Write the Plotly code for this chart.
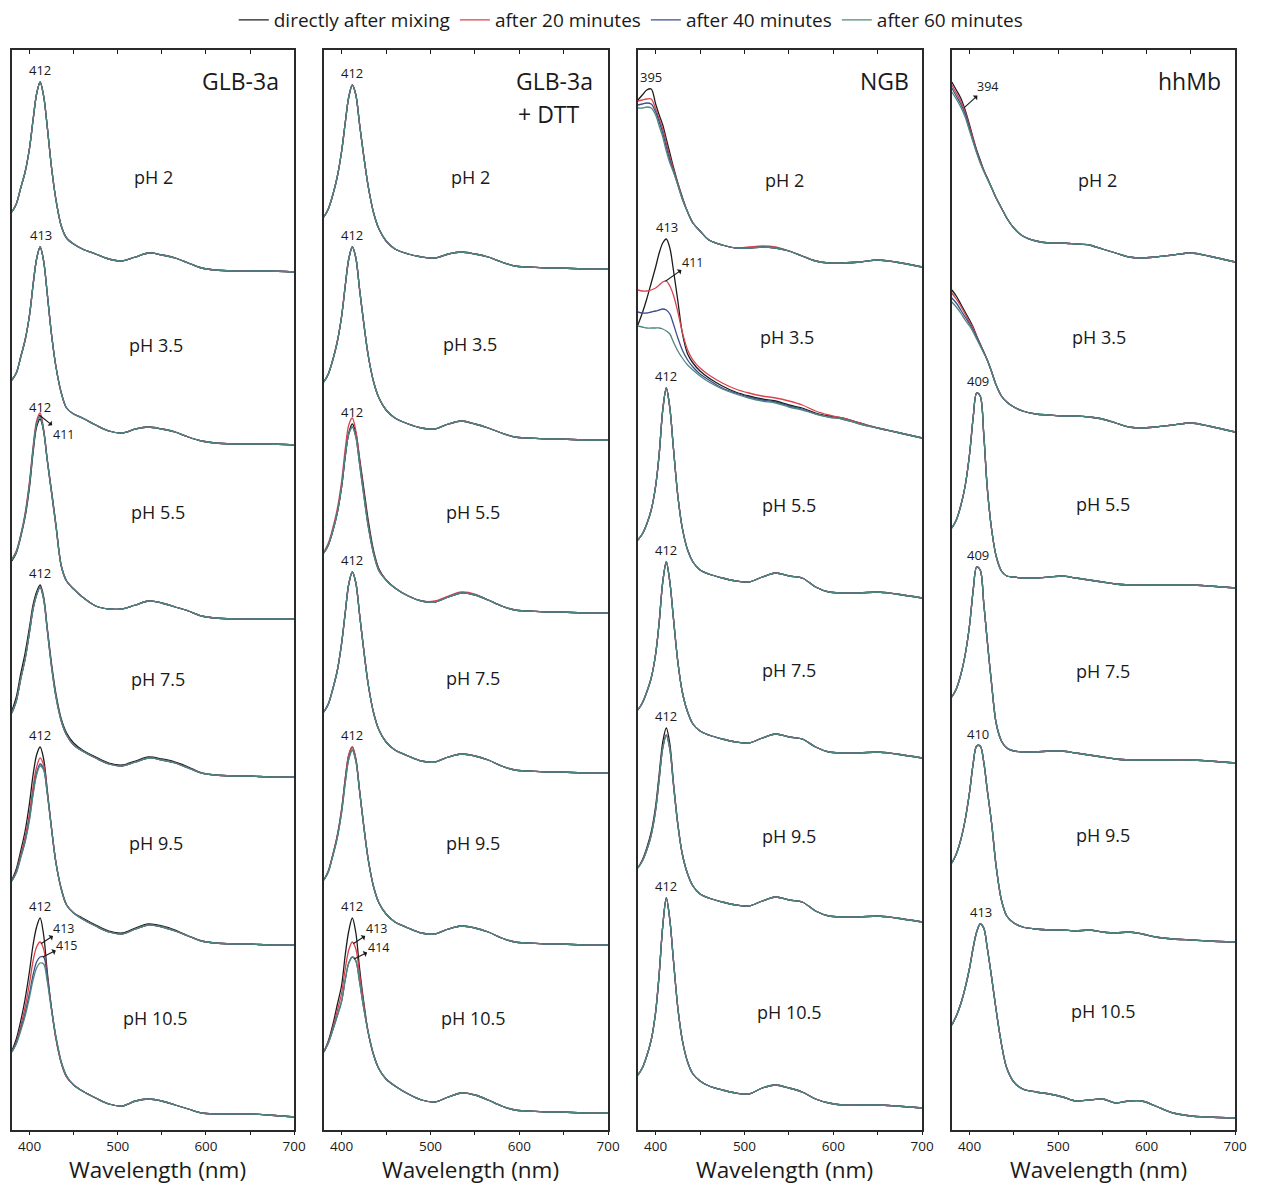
import numpy as np
import plotly.graph_objects as go

W, H = 1262, 1185

# Wavelength grid (nm) shared by every spectrum
WAVELENGTH = [380, 385, 390, 395, 400, 404, 408, 412, 416, 420, 425, 430, 436, 442, 450,
              460, 475, 490, 505, 520, 535, 550, 565, 580, 595, 610, 630, 650, 670, 700]

TIME_POINTS = ["directly after mixing", "after 20 minutes", "after 40 minutes", "after 60 minutes"]
TIME_COLORS = ["#1c1c1c", "#d9434e", "#3d4d8f", "#4f877d"]
PH_LABELS = ["pH 2", "pH 3.5", "pH 5.5", "pH 7.5", "pH 9.5", "pH 10.5"]
PANEL_NAMES = ["GLB-3a", "GLB-3a + DTT", "NGB", "hhMb"]

# Absorbance above each trace's 700 nm level; one list per time point
# (a single list is reused where the time points coincide)

# ---- GLB-3a ----
glb_ph2 = [0.60, 0.68, 0.84, 1.00, 1.24, 1.52, 1.78, 1.90, 1.76, 1.46, 1.04, 0.72, 0.46, 0.34, 0.28,
           0.23, 0.18, 0.13, 0.11, 0.15, 0.19, 0.17, 0.14, 0.09, 0.04, 0.02, 0.01, 0.01, 0.01, 0.00]
glb_ph3_5 = [0.65, 0.72, 0.88, 1.05, 1.30, 1.60, 1.86, 1.98, 1.84, 1.52, 1.10, 0.78, 0.52, 0.37, 0.31,
             0.27, 0.20, 0.14, 0.12, 0.16, 0.18, 0.16, 0.13, 0.08, 0.04, 0.02, 0.01, 0.01, 0.01, 0.00]
glb_ph5_5_t0 = [0.58, 0.66, 0.82, 1.02, 1.32, 1.66, 1.92, 2.00, 1.88, 1.60, 1.28, 0.94, 0.53, 0.38, 0.30,
                0.22, 0.13, 0.10, 0.10, 0.14, 0.18, 0.16, 0.12, 0.08, 0.03, 0.01, 0.00, 0.00, 0.00, 0.00]
glb_ph5_5_t20 = [0.60, 0.68, 0.84, 1.06, 1.38, 1.72, 1.98, 2.06, 1.90, 1.60, 1.26, 0.92, 0.53, 0.38, 0.30,
                 0.22, 0.13, 0.10, 0.10, 0.14, 0.18, 0.16, 0.12, 0.08, 0.03, 0.01, 0.00, 0.00, 0.00, 0.00]
glb_ph5_5_t60 = [0.59, 0.67, 0.83, 1.04, 1.35, 1.69, 1.95, 2.03, 1.88, 1.59, 1.26, 0.93, 0.53, 0.38, 0.30,
                 0.22, 0.13, 0.10, 0.10, 0.14, 0.18, 0.16, 0.12, 0.08, 0.03, 0.01, 0.00, 0.00, 0.00, 0.00]
glb_ph7_5_t0 = [0.66, 0.80, 1.03, 1.24, 1.50, 1.72, 1.85, 1.92, 1.80, 1.50, 1.13, 0.83, 0.58, 0.44, 0.34,
                0.27, 0.20, 0.14, 0.12, 0.16, 0.20, 0.18, 0.15, 0.10, 0.04, 0.02, 0.01, 0.01, 0.00, 0.00]
glb_ph7_5_t60 = [0.64, 0.76, 0.98, 1.18, 1.45, 1.68, 1.82, 1.90, 1.78, 1.48, 1.10, 0.80, 0.56, 0.42, 0.32,
                 0.26, 0.19, 0.13, 0.11, 0.15, 0.19, 0.17, 0.14, 0.09, 0.04, 0.02, 0.01, 0.01, 0.00, 0.00]
glb_ph9_5_t0 = [0.65, 0.76, 0.94, 1.14, 1.42, 1.70, 1.90, 1.98, 1.86, 1.56, 1.16, 0.82, 0.56, 0.40, 0.32,
                0.27, 0.20, 0.14, 0.12, 0.17, 0.21, 0.19, 0.15, 0.09, 0.04, 0.02, 0.01, 0.01, 0.00, 0.00]
glb_ph9_5_t20 = [0.64, 0.74, 0.90, 1.08, 1.32, 1.58, 1.78, 1.87, 1.80, 1.54, 1.16, 0.82, 0.56, 0.40, 0.32,
                 0.26, 0.19, 0.13, 0.11, 0.16, 0.20, 0.18, 0.14, 0.09, 0.04, 0.02, 0.01, 0.01, 0.00, 0.00]
glb_ph9_5_t40 = [0.64, 0.73, 0.88, 1.04, 1.27, 1.52, 1.72, 1.81, 1.76, 1.52, 1.16, 0.82, 0.56, 0.40, 0.32,
                 0.26, 0.19, 0.13, 0.11, 0.16, 0.20, 0.18, 0.14, 0.09, 0.04, 0.02, 0.01, 0.01, 0.00, 0.00]
glb_ph9_5_t60 = [0.64, 0.72, 0.87, 1.03, 1.25, 1.50, 1.70, 1.79, 1.75, 1.52, 1.16, 0.82, 0.56, 0.40, 0.32,
                 0.26, 0.19, 0.13, 0.11, 0.16, 0.20, 0.18, 0.14, 0.09, 0.04, 0.02, 0.01, 0.01, 0.00, 0.00]
glb_ph10_5_t0 = [0.66, 0.78, 0.96, 1.18, 1.46, 1.72, 1.90, 1.99, 1.82, 1.46, 1.08, 0.78, 0.54, 0.40, 0.32,
                 0.26, 0.19, 0.13, 0.11, 0.16, 0.18, 0.16, 0.12, 0.08, 0.04, 0.03, 0.03, 0.03, 0.02, 0.00]
glb_ph10_5_t20 = [0.65, 0.75, 0.91, 1.10, 1.34, 1.56, 1.70, 1.75, 1.68, 1.42, 1.08, 0.78, 0.54, 0.40, 0.32,
                  0.26, 0.19, 0.13, 0.11, 0.16, 0.18, 0.16, 0.12, 0.08, 0.04, 0.03, 0.03, 0.03, 0.02, 0.00]
glb_ph10_5_t40 = [0.65, 0.74, 0.88, 1.04, 1.24, 1.42, 1.55, 1.60, 1.60, 1.40, 1.08, 0.80, 0.55, 0.41, 0.32,
                  0.26, 0.19, 0.13, 0.11, 0.16, 0.18, 0.16, 0.12, 0.08, 0.04, 0.03, 0.03, 0.03, 0.02, 0.00]
glb_ph10_5_t60 = [0.65, 0.73, 0.86, 1.01, 1.20, 1.37, 1.49, 1.54, 1.53, 1.36, 1.06, 0.80, 0.55, 0.41, 0.32,
                  0.26, 0.19, 0.13, 0.11, 0.16, 0.18, 0.16, 0.12, 0.08, 0.04, 0.03, 0.03, 0.03, 0.02, 0.00]

# ---- GLB-3a + DTT ----
dtt_ph2 = [0.52, 0.60, 0.74, 0.92, 1.18, 1.46, 1.72, 1.84, 1.74, 1.46, 1.12, 0.82, 0.56, 0.40, 0.28,
           0.20, 0.15, 0.12, 0.11, 0.15, 0.17, 0.15, 0.12, 0.07, 0.03, 0.02, 0.01, 0.01, 0.00, 0.00]
dtt_ph3_5 = [0.58, 0.66, 0.80, 0.98, 1.24, 1.54, 1.81, 1.93, 1.82, 1.52, 1.16, 0.84, 0.58, 0.42, 0.30,
             0.22, 0.16, 0.12, 0.11, 0.16, 0.19, 0.16, 0.12, 0.07, 0.03, 0.02, 0.01, 0.01, 0.00, 0.00]
dtt_ph5_5_t0 = [0.60, 0.68, 0.82, 1.00, 1.26, 1.56, 1.80, 1.89, 1.80, 1.56, 1.24, 0.92, 0.62, 0.44, 0.33,
                0.25, 0.17, 0.12, 0.11, 0.16, 0.20, 0.18, 0.13, 0.07, 0.03, 0.02, 0.01, 0.01, 0.00, 0.00]
dtt_ph5_5_t20 = [0.61, 0.70, 0.85, 1.04, 1.32, 1.64, 1.88, 1.95, 1.82, 1.54, 1.20, 0.88, 0.60, 0.43, 0.33,
                 0.25, 0.17, 0.12, 0.12, 0.17, 0.21, 0.19, 0.13, 0.07, 0.03, 0.02, 0.01, 0.01, 0.00, 0.00]
dtt_ph5_5_t60 = [0.60, 0.68, 0.82, 1.00, 1.27, 1.57, 1.79, 1.86, 1.76, 1.50, 1.17, 0.86, 0.59, 0.42, 0.33,
                 0.25, 0.17, 0.12, 0.11, 0.16, 0.20, 0.18, 0.13, 0.07, 0.03, 0.02, 0.01, 0.01, 0.00, 0.00]
dtt_ph7_5 = [0.61, 0.69, 0.84, 1.02, 1.30, 1.60, 1.89, 2.01, 1.90, 1.60, 1.22, 0.88, 0.60, 0.43, 0.31,
             0.23, 0.17, 0.12, 0.11, 0.16, 0.19, 0.17, 0.13, 0.07, 0.03, 0.02, 0.01, 0.01, 0.00, 0.00]
dtt_ph9_5_t0 = [0.65, 0.74, 0.90, 1.09, 1.36, 1.66, 1.90, 1.98, 1.86, 1.56, 1.18, 0.85, 0.58, 0.42, 0.31,
                0.23, 0.17, 0.12, 0.11, 0.16, 0.19, 0.17, 0.13, 0.07, 0.03, 0.02, 0.01, 0.01, 0.00, 0.00]
dtt_ph9_5_t60 = [0.65, 0.73, 0.89, 1.07, 1.33, 1.62, 1.86, 1.95, 1.84, 1.55, 1.18, 0.85, 0.58, 0.42, 0.31,
                 0.23, 0.17, 0.12, 0.11, 0.16, 0.19, 0.17, 0.13, 0.07, 0.03, 0.02, 0.01, 0.01, 0.00, 0.00]
dtt_ph10_5_t0 = [0.61, 0.72, 0.88, 1.08, 1.28, 1.58, 1.82, 1.95, 1.80, 1.46, 1.10, 0.80, 0.58, 0.44, 0.34,
                 0.27, 0.19, 0.13, 0.11, 0.16, 0.20, 0.18, 0.13, 0.07, 0.03, 0.02, 0.01, 0.01, 0.00, 0.00]
dtt_ph10_5_t20 = [0.61, 0.71, 0.85, 1.02, 1.20, 1.44, 1.63, 1.71, 1.64, 1.40, 1.08, 0.80, 0.58, 0.44, 0.34,
                  0.27, 0.19, 0.13, 0.11, 0.16, 0.20, 0.18, 0.13, 0.07, 0.03, 0.02, 0.01, 0.01, 0.00, 0.00]
dtt_ph10_5_t60 = [0.61, 0.70, 0.83, 0.97, 1.12, 1.33, 1.50, 1.56, 1.52, 1.32, 1.04, 0.80, 0.58, 0.44, 0.34,
                  0.27, 0.19, 0.13, 0.11, 0.16, 0.20, 0.18, 0.13, 0.07, 0.03, 0.02, 0.01, 0.01, 0.00, 0.00]

# ---- NGB ----
ngb_ph2_t0 = [1.67, 1.72, 1.77, 1.78, 1.63, 1.52, 1.42, 1.28, 1.14, 1.00, 0.84, 0.70, 0.55, 0.44, 0.36,
              0.27, 0.22, 0.19, 0.19, 0.20, 0.19, 0.16, 0.11, 0.06, 0.04, 0.04, 0.05, 0.07, 0.05, 0.00]
ngb_ph2_t20 = [1.66, 1.67, 1.68, 1.68, 1.58, 1.48, 1.38, 1.24, 1.10, 0.98, 0.83, 0.69, 0.55, 0.44, 0.36,
               0.27, 0.22, 0.19, 0.20, 0.21, 0.20, 0.16, 0.11, 0.06, 0.04, 0.04, 0.05, 0.07, 0.05, 0.00]
ngb_ph2_t40 = [1.62, 1.63, 1.64, 1.63, 1.55, 1.45, 1.34, 1.20, 1.07, 0.96, 0.82, 0.68, 0.55, 0.44, 0.36,
               0.27, 0.22, 0.19, 0.19, 0.20, 0.19, 0.16, 0.11, 0.06, 0.04, 0.04, 0.05, 0.07, 0.05, 0.00]
ngb_ph2_t60 = [1.59, 1.59, 1.60, 1.59, 1.52, 1.41, 1.30, 1.16, 1.04, 0.95, 0.82, 0.68, 0.55, 0.44, 0.36,
               0.27, 0.22, 0.19, 0.19, 0.20, 0.19, 0.16, 0.11, 0.06, 0.04, 0.04, 0.05, 0.07, 0.05, 0.00]
ngb_ph3_5_t0 = [1.13, 1.25, 1.39, 1.55, 1.71, 1.85, 1.95, 1.99, 1.90, 1.68, 1.37, 1.05, 0.84, 0.75, 0.67,
                0.60, 0.52, 0.46, 0.42, 0.39, 0.37, 0.33, 0.30, 0.25, 0.22, 0.20, 0.15, 0.10, 0.06, 0.00]
ngb_ph3_5_t20 = [1.48, 1.47, 1.47, 1.48, 1.50, 1.53, 1.56, 1.57, 1.52, 1.43, 1.26, 1.06, 0.88, 0.78, 0.70,
                 0.63, 0.55, 0.49, 0.45, 0.42, 0.40, 0.37, 0.33, 0.27, 0.23, 0.20, 0.15, 0.10, 0.06, 0.00]
ngb_ph3_5_t40 = [1.26, 1.25, 1.25, 1.26, 1.27, 1.28, 1.29, 1.28, 1.24, 1.14, 1.00, 0.88, 0.78, 0.71, 0.64,
                 0.58, 0.50, 0.45, 0.41, 0.38, 0.36, 0.32, 0.29, 0.24, 0.21, 0.19, 0.14, 0.10, 0.06, 0.00]
ngb_ph3_5_t60 = [1.12, 1.11, 1.10, 1.10, 1.10, 1.10, 1.09, 1.07, 1.04, 0.96, 0.87, 0.80, 0.73, 0.68, 0.62,
                 0.56, 0.49, 0.44, 0.40, 0.37, 0.35, 0.31, 0.28, 0.24, 0.21, 0.19, 0.14, 0.10, 0.06, 0.00]
ngb_ph5_5 = [0.58, 0.64, 0.74, 0.88, 1.12, 1.44, 1.88, 2.10, 1.90, 1.50, 1.02, 0.70, 0.48, 0.36, 0.28,
             0.24, 0.20, 0.17, 0.16, 0.21, 0.25, 0.22, 0.20, 0.11, 0.06, 0.05, 0.05, 0.06, 0.04, 0.00]
ngb_ph7_5 = [0.48, 0.55, 0.66, 0.80, 1.04, 1.36, 1.76, 1.96, 1.76, 1.40, 0.96, 0.66, 0.46, 0.34, 0.27,
             0.23, 0.19, 0.16, 0.15, 0.20, 0.24, 0.21, 0.19, 0.11, 0.06, 0.05, 0.05, 0.06, 0.04, 0.00]
ngb_ph9_5_t0 = [0.54, 0.62, 0.74, 0.90, 1.16, 1.48, 1.80, 1.94, 1.78, 1.40, 0.98, 0.68, 0.48, 0.36, 0.28,
                0.24, 0.20, 0.17, 0.16, 0.21, 0.25, 0.22, 0.20, 0.11, 0.06, 0.05, 0.05, 0.06, 0.04, 0.00]
ngb_ph9_5_t60 = [0.54, 0.61, 0.72, 0.87, 1.12, 1.43, 1.74, 1.87, 1.73, 1.38, 0.97, 0.68, 0.48, 0.36, 0.28,
                 0.24, 0.20, 0.17, 0.16, 0.21, 0.25, 0.22, 0.20, 0.11, 0.06, 0.05, 0.05, 0.06, 0.04, 0.00]
ngb_ph10_5 = [0.33, 0.40, 0.52, 0.68, 0.96, 1.34, 1.82, 2.10, 1.88, 1.48, 1.00, 0.68, 0.46, 0.34, 0.27,
              0.22, 0.18, 0.15, 0.14, 0.20, 0.23, 0.20, 0.16, 0.09, 0.05, 0.03, 0.03, 0.03, 0.02, 0.00]

# ---- hhMb ----
hh_ph2_t0 = [1.80, 1.72, 1.64, 1.52, 1.37, 1.24, 1.12, 1.02, 0.92, 0.84, 0.74, 0.64, 0.54, 0.44, 0.34,
             0.26, 0.21, 0.19, 0.19, 0.18, 0.17, 0.13, 0.09, 0.05, 0.04, 0.05, 0.07, 0.09, 0.06, 0.00]
hh_ph2_t20 = [1.77, 1.69, 1.61, 1.50, 1.35, 1.23, 1.11, 1.01, 0.92, 0.84, 0.74, 0.64, 0.54, 0.44, 0.34,
              0.26, 0.21, 0.19, 0.19, 0.18, 0.17, 0.13, 0.09, 0.05, 0.04, 0.05, 0.07, 0.09, 0.06, 0.00]
hh_ph2_t40 = [1.74, 1.66, 1.58, 1.48, 1.33, 1.21, 1.10, 1.00, 0.91, 0.84, 0.74, 0.64, 0.54, 0.44, 0.34,
              0.26, 0.21, 0.19, 0.19, 0.18, 0.17, 0.13, 0.09, 0.05, 0.04, 0.05, 0.07, 0.09, 0.06, 0.00]
hh_ph2_t60 = [1.70, 1.63, 1.55, 1.45, 1.31, 1.20, 1.09, 0.99, 0.91, 0.83, 0.74, 0.64, 0.54, 0.44, 0.34,
              0.26, 0.21, 0.19, 0.19, 0.18, 0.17, 0.13, 0.09, 0.05, 0.04, 0.05, 0.07, 0.09, 0.06, 0.00]
hh_ph3_5_t0 = [1.42, 1.36, 1.28, 1.20, 1.12, 1.05, 0.96, 0.88, 0.80, 0.72, 0.60, 0.47, 0.36, 0.30, 0.25,
               0.21, 0.18, 0.17, 0.16, 0.16, 0.15, 0.13, 0.09, 0.05, 0.04, 0.05, 0.07, 0.09, 0.06, 0.00]
hh_ph3_5_t20 = [1.39, 1.33, 1.26, 1.18, 1.10, 1.04, 0.96, 0.88, 0.80, 0.72, 0.60, 0.47, 0.36, 0.30, 0.25,
                0.21, 0.18, 0.17, 0.16, 0.16, 0.15, 0.13, 0.09, 0.05, 0.04, 0.05, 0.07, 0.09, 0.06, 0.00]
hh_ph3_5_t40 = [1.34, 1.29, 1.22, 1.15, 1.08, 1.02, 0.95, 0.87, 0.80, 0.72, 0.60, 0.47, 0.36, 0.30, 0.25,
                0.21, 0.18, 0.17, 0.16, 0.16, 0.15, 0.13, 0.09, 0.05, 0.04, 0.05, 0.07, 0.09, 0.06, 0.00]
hh_ph3_5_t60 = [1.30, 1.25, 1.19, 1.12, 1.06, 1.00, 0.93, 0.86, 0.79, 0.72, 0.60, 0.47, 0.36, 0.30, 0.25,
                0.21, 0.18, 0.17, 0.16, 0.16, 0.15, 0.13, 0.09, 0.05, 0.04, 0.05, 0.07, 0.09, 0.06, 0.00]
hh_ph5_5 = [0.60, 0.68, 0.82, 1.02, 1.34, 1.70, 1.95, 1.92, 1.54, 1.00, 0.58, 0.32, 0.17, 0.12, 0.11,
            0.10, 0.10, 0.11, 0.12, 0.10, 0.08, 0.06, 0.04, 0.03, 0.03, 0.03, 0.03, 0.03, 0.02, 0.00]
hh_ph7_5 = [0.66, 0.74, 0.88, 1.08, 1.38, 1.72, 1.96, 1.93, 1.60, 1.22, 0.78, 0.40, 0.22, 0.15, 0.12,
            0.11, 0.11, 0.12, 0.12, 0.10, 0.08, 0.06, 0.04, 0.03, 0.03, 0.03, 0.03, 0.03, 0.02, 0.00]
hh_ph9_5 = [0.79, 0.88, 1.02, 1.22, 1.50, 1.78, 1.96, 1.96, 1.80, 1.52, 1.18, 0.76, 0.42, 0.26, 0.19,
            0.15, 0.13, 0.12, 0.12, 0.11, 0.12, 0.10, 0.09, 0.10, 0.08, 0.05, 0.03, 0.02, 0.01, 0.00]
hh_ph10_5 = [0.93, 1.02, 1.14, 1.30, 1.50, 1.70, 1.86, 1.94, 1.90, 1.70, 1.40, 1.08, 0.74, 0.50, 0.36,
             0.29, 0.26, 0.24, 0.21, 0.17, 0.18, 0.19, 0.15, 0.17, 0.17, 0.12, 0.05, 0.02, 0.01, 0.00]

# Vertical offset of each pH trace set (stacked display), top to bottom
GLB_OFFSETS = [8.58, 6.85, 5.11, 3.53, 1.85, 0.13]
DTT_OFFSETS = [8.61, 6.90, 5.17, 3.57, 1.85, 0.17]
NGB_OFFSETS = [8.63, 6.92, 5.32, 3.72, 2.08, 0.22]
HHMB_OFFSETS = [8.68, 6.98, 5.42, 3.67, 1.88, 0.12]

# Per panel: for each pH, the four time-point spectra
SPECTRA = [
    [[glb_ph2] * 4,
     [glb_ph3_5] * 4,
     [glb_ph5_5_t0, glb_ph5_5_t20, glb_ph5_5_t60, glb_ph5_5_t60],
     [glb_ph7_5_t0, glb_ph7_5_t60, glb_ph7_5_t60, glb_ph7_5_t60],
     [glb_ph9_5_t0, glb_ph9_5_t20, glb_ph9_5_t40, glb_ph9_5_t60],
     [glb_ph10_5_t0, glb_ph10_5_t20, glb_ph10_5_t40, glb_ph10_5_t60]],
    [[dtt_ph2] * 4,
     [dtt_ph3_5] * 4,
     [dtt_ph5_5_t0, dtt_ph5_5_t20, dtt_ph5_5_t60, dtt_ph5_5_t60],
     [dtt_ph7_5] * 4,
     [dtt_ph9_5_t0, dtt_ph9_5_t0, dtt_ph9_5_t60, dtt_ph9_5_t60],
     [dtt_ph10_5_t0, dtt_ph10_5_t20, dtt_ph10_5_t60, dtt_ph10_5_t60]],
    [[ngb_ph2_t0, ngb_ph2_t20, ngb_ph2_t40, ngb_ph2_t60],
     [ngb_ph3_5_t0, ngb_ph3_5_t20, ngb_ph3_5_t40, ngb_ph3_5_t60],
     [ngb_ph5_5] * 4,
     [ngb_ph7_5] * 4,
     [ngb_ph9_5_t0, ngb_ph9_5_t60, ngb_ph9_5_t60, ngb_ph9_5_t60],
     [ngb_ph10_5] * 4],
    [[hh_ph2_t0, hh_ph2_t20, hh_ph2_t40, hh_ph2_t60],
     [hh_ph3_5_t0, hh_ph3_5_t20, hh_ph3_5_t40, hh_ph3_5_t60],
     [hh_ph5_5] * 4,
     [hh_ph7_5] * 4,
     [hh_ph9_5] * 4,
     [hh_ph10_5] * 4],
]
OFFSETS = [GLB_OFFSETS, DTT_OFFSETS, NGB_OFFSETS, HHMB_OFFSETS]

# Peak maxima labels: (panel, pH index, time index, wavelength)
PEAK_LABELS = [
    (0, 0, 0, 412), (0, 1, 0, 413), (0, 2, 0, 412), (0, 3, 0, 412), (0, 4, 0, 412), (0, 5, 0, 412),
    (1, 0, 0, 412), (1, 1, 0, 412), (1, 2, 0, 412), (1, 3, 0, 412), (1, 4, 0, 412), (1, 5, 0, 412),
    (2, 0, 0, 395), (2, 1, 0, 413), (2, 2, 0, 412), (2, 3, 0, 412), (2, 4, 0, 412), (2, 5, 0, 412),
    (3, 2, 0, 409), (3, 3, 0, 409), (3, 4, 0, 410), (3, 5, 0, 413),
]
# Shifted maxima pointed at with an arrow: (panel, pH index, time index, wavelength, text dx, text dy)
SHIFT_LABELS = [
    (0, 2, 1, 411, 24, 19),
    (0, 5, 1, 413, 23, -15),
    (0, 5, 2, 415, 24, -12),
    (1, 5, 1, 413, 23, -15),
    (1, 5, 2, 414, 24, -12),
    (2, 1, 1, 411, 27, -19),
    (3, 0, 0, 394, 23, -21),
]

# ---- layout geometry (pixels) ----
PANEL_X = [(12, 297), (327, 614), (644, 931), (961, 1247)]
PLOT_TOP, PLOT_BOTTOM = 50, 1130
Y_RANGE = [0, (PLOT_BOTTOM - PLOT_TOP) / 100]
FONT = "Open Sans"
INK = "#1a1a1a"
PH_POS = [
    [(155, 177), (157, 345), (160, 512), (160, 679), (157, 843), (157, 1018)],
    [(475, 177), (475, 344), (478, 512), (478, 678), (478, 843), (478, 1018)],
    [(792, 180), (795, 337), (797, 505), (797, 670), (797, 836), (797, 1012)],
    [(1108, 180), (1110, 337), (1114, 504), (1114, 671), (1114, 835), (1114, 1011)],
]


def px(x):
    return x / W


def py(y):
    return 1 - y / H


fig = go.Figure()
layout = dict(
    width=W, height=H, margin=dict(l=0, r=0, t=0, b=0),
    paper_bgcolor="white", plot_bgcolor="white", hovermode=False,
    font=dict(family=FONT, color=INK),
    showlegend=True,
    legend=dict(orientation="h", x=0.505, xanchor="center", y=py(20), yanchor="middle",
                font=dict(size=19, family=FONT, color=INK), itemwidth=30,
                bgcolor="rgba(0,0,0,0)", traceorder="normal"),
)
annotations = []


def paper_text(x, y, text, size, xanchor="center"):
    return dict(x=px(x), y=py(y), xref="paper", yref="paper", text=text, showarrow=False,
                xanchor=xanchor, yanchor="middle", font=dict(size=size, family=FONT, color=INK))


for p in range(4):
    xa = "x" if p == 0 else f"x{p + 1}"
    ya = "y" if p == 0 else f"y{p + 1}"
    x0, x1 = PANEL_X[p]
    axis_suffix = "" if p == 0 else str(p + 1)
    layout[f"xaxis{axis_suffix}"] = dict(
        domain=[px(x0), px(x1)], anchor=ya, range=[380, 700],
        tickvals=[400, 450, 500, 550, 600, 650, 700],
        ticktext=["400", "", "500", "", "600", "", "700"],
        ticks="outside", ticklen=3, tickwidth=1.2, tickcolor=INK,
        tickfont=dict(size=13.5, family=FONT, color=INK),
        showline=True, linecolor="#2a2a2a", linewidth=1.6, mirror=True,
        showgrid=False, zeroline=False, fixedrange=True,
    )
    layout[f"yaxis{axis_suffix}"] = dict(
        domain=[py(PLOT_BOTTOM), py(PLOT_TOP)], anchor=xa, range=Y_RANGE,
        showticklabels=False, ticks="", showline=True, linecolor="#2a2a2a",
        linewidth=1.6, mirror=True, showgrid=False, zeroline=False, fixedrange=True,
    )
    # inward ticks along the top edge
    top_id = p + 5
    layout[f"xaxis{top_id}"] = dict(
        overlaying=xa, anchor=ya, side="top", range=[380, 700],
        tickvals=[400, 450, 500, 550, 600, 650], ticks="inside", ticklen=4,
        tickwidth=1.2, tickcolor=INK, showticklabels=False, showline=False,
        showgrid=False, zeroline=False, fixedrange=True,
    )
    fig.add_trace(go.Scatter(x=[None], y=[None], xaxis=f"x{top_id}", yaxis=ya,
                             showlegend=False, hoverinfo="skip"))

    for k, sets in enumerate(SPECTRA[p]):
        off = OFFSETS[p][k]
        for t, values in enumerate(sets):
            fig.add_trace(go.Scatter(
                x=WAVELENGTH, y=[v + off for v in values], xaxis=xa, yaxis=ya,
                mode="lines", line=dict(color=TIME_COLORS[t], width=1.3, shape="spline", smoothing=0.9),
                name=TIME_POINTS[t], legendgroup=TIME_POINTS[t],
                showlegend=(p == 0 and k == 0), hoverinfo="skip",
            ))
        cx, cy = PH_POS[p][k]
        annotations.append(paper_text(cx, cy, PH_LABELS[k], 18))

    # axis title
    annotations.append(paper_text((x0 + x1) / 2 + 5, 1169, "Wavelength (nm)", 22.5))

# panel titles
annotations += [
    paper_text(284, 81, "GLB-3a", 23, "right"),
    paper_text(601, 81, "GLB-3a", 23, "right"),
    paper_text(521, 114, "+ DTT", 23, "left"),
    paper_text(920, 81, "NGB", 23, "right"),
    paper_text(1235, 81, "hhMb", 23, "right"),
]

for p, k, t, wl in PEAK_LABELS:
    xa = "x" if p == 0 else f"x{p + 1}"
    ya = "y" if p == 0 else f"y{p + 1}"
    top = max(SPECTRA[p][k][t]) + OFFSETS[p][k]
    annotations.append(dict(x=wl, y=top, xref=xa, yref=ya, text=str(wl), showarrow=False,
                            xanchor="center", yanchor="bottom", yshift=1,
                            font=dict(size=13, family=FONT, color=INK)))

for p, k, t, wl, dx, dy in SHIFT_LABELS:
    xa = "x" if p == 0 else f"x{p + 1}"
    ya = "y" if p == 0 else f"y{p + 1}"
    yv = float(np.interp(wl, WAVELENGTH, SPECTRA[p][k][t])) + OFFSETS[p][k]
    annotations.append(dict(x=wl, y=yv, xref=xa, yref=ya, text=str(wl), showarrow=True,
                            ax=dx, ay=dy, arrowside="start", arrowhead=2, arrowsize=0.9,
                            arrowwidth=1.1, arrowcolor=INK, borderpad=0,
                            font=dict(size=12.5, family=FONT, color=INK)))

layout["annotations"] = annotations
fig.update_layout(**layout)
fig.write_html("out.html")
